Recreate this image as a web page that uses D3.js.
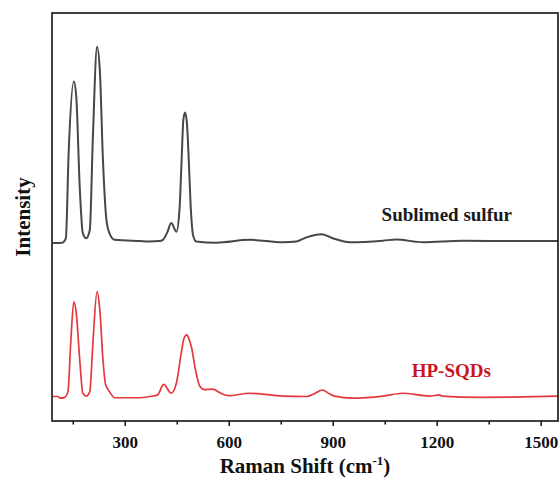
<!DOCTYPE html>
<html>
<head>
<meta charset="utf-8">
<script src="https://cdn.jsdelivr.net/npm/d3@7"></script>
<style>
  body { margin: 0; background: #fff; }
  text { font-family: "Liberation Serif", "Times New Roman", serif; font-weight: bold; }
</style>
</head>
<body>
<svg id="chart" width="560" height="484"></svg>
<script>
// Raman shift (cm-1) and intensity (a.u.)
const sulfurShift = [93, 120, 130, 138, 153, 160, 170, 179, 189, 199, 208, 220, 228, 237, 247, 256, 271, 343, 372, 400, 410, 422, 434, 449, 458, 464, 469, 474, 479, 484, 490, 497, 506, 564, 660, 756, 795, 824, 867, 900, 949, 1045, 1083, 1160, 1275, 1419, 1550];
const sulfurIntensity = [43.6, 43.7, 44.8, 65.7, 83.2, 79.5, 57.4, 46.0, 44.8, 46.8, 69.7, 91.7, 86.0, 64.0, 49.3, 46.0, 44.4, 44.1, 44.0, 44.1, 44.4, 46.1, 48.5, 46.4, 52.0, 64.0, 73.8, 75.6, 73.3, 65.2, 52.9, 45.6, 44.0, 43.7, 44.4, 43.8, 44.0, 45.0, 45.8, 44.8, 43.8, 44.2, 44.5, 43.8, 44.2, 44.1, 44.1];

const sqdShift = [93, 107, 114, 127, 136, 144, 153, 160, 170, 179, 189, 199, 208, 220, 228, 237, 245, 256, 271, 343, 372, 395, 412, 434, 449, 463, 471, 479, 486, 492, 506, 516, 530, 554, 575, 598, 660, 756, 824, 845, 870, 890, 905, 958, 1045, 1101, 1180, 1208, 1215, 1324, 1450, 1549];
const sqdIntensity = [6.0, 6.0, 5.6, 5.8, 7.2, 19.1, 29.2, 26.5, 15.0, 6.8, 6.1, 7.2, 19.1, 31.7, 27.2, 15.0, 8.8, 7.2, 5.7, 5.7, 6.0, 6.4, 9.0, 6.8, 9.3, 16.7, 20.3, 21.1, 19.9, 18.2, 11.7, 8.6, 7.7, 7.8, 6.9, 6.2, 6.8, 6.1, 6.0, 6.6, 7.6, 6.7, 6.1, 5.6, 6.1, 6.8, 6.1, 6.4, 6.1, 5.8, 5.9, 6.1];

const majorTicks = [300, 600, 900, 1200, 1500];
const minorTicks = [150, 450, 750, 1050, 1350];

const svg = d3.select("#chart");
const margin = { top: 13, right: 2, bottom: 63, left: 52 };
const width = 560, height = 484;

const x = d3.scaleLinear([90, 1550], [margin.left, width - margin.right]);
const y = d3.scaleLinear([0, 100], [height - margin.bottom, margin.top]);

const line = d3.line()
  .x((d) => x(d[0]))
  .y((d) => y(d[1]))
  .curve(d3.curveMonotoneX);

const series = [
  { shift: sulfurShift, val: sulfurIntensity, color: "#474747", w: 2 },
  { shift: sqdShift, val: sqdIntensity, color: "#e5383d", w: 1.7 },
];

svg.append("g")
  .selectAll("path")
  .data(series)
  .join("path")
  .attr("fill", "none")
  .attr("stroke", (s) => s.color)
  .attr("stroke-width", (s) => s.w)
  .attr("stroke-linejoin", "round")
  .attr("d", (s) => line(d3.zip(s.shift, s.val)));

// frame
svg.append("rect")
  .attr("x", margin.left)
  .attr("y", margin.top)
  .attr("width", width - margin.left - margin.right)
  .attr("height", height - margin.top - margin.bottom)
  .attr("fill", "none")
  .attr("stroke", "#111")
  .attr("stroke-width", 1.6);

// minor ticks
svg.append("g")
  .attr("transform", `translate(0,${height - margin.bottom})`)
  .call(d3.axisBottom(x).tickValues(minorTicks).tickSize(3.5).tickFormat(""))
  .call((g) => g.select(".domain").remove())
  .call((g) => g.selectAll(".tick line").attr("stroke", "#111").attr("stroke-width", 1.5));

// major ticks
svg.append("g")
  .attr("transform", `translate(0,${height - margin.bottom})`)
  .call(d3.axisBottom(x).tickValues(majorTicks).tickSize(5).tickPadding(10).tickFormat(d3.format("d")))
  .call((g) => g.select(".domain").remove())
  .call((g) => g.selectAll(".tick line").attr("stroke", "#111").attr("stroke-width", 1.5))
  .call((g) => g.selectAll(".tick text")
    .attr("fill", "#111")
    .style("font-size", "17px")
    .style("font-family", "'Liberation Serif', serif")
    .style("font-weight", "bold"));

// axis titles
const xt = svg.append("text")
  .attr("x", (margin.left + width - margin.right) / 2)
  .attr("y", 473)
  .attr("text-anchor", "middle")
  .attr("fill", "#111")
  .style("font-size", "21px");
xt.append("tspan").text("Raman Shift (cm");
xt.append("tspan").attr("dy", -8).style("font-size", "13px").text("-1");
xt.append("tspan").attr("dy", 8).text(")");

svg.append("text")
  .attr("transform", `translate(30,${(margin.top + height - margin.bottom) / 2}) rotate(-90)`)
  .attr("text-anchor", "middle")
  .attr("fill", "#111")
  .style("font-size", "21px")
  .text("Intensity");

// series labels
svg.append("text")
  .attr("x", x(1041))
  .attr("y", 221)
  .attr("fill", "#1a1a1a")
  .style("font-size", "19px")
  .text("Sublimed sulfur");

svg.append("text")
  .attr("x", x(1128))
  .attr("y", 377)
  .attr("fill", "#c8161d")
  .style("font-size", "19px")
  .text("HP-SQDs");
</script>
</body>
</html>
